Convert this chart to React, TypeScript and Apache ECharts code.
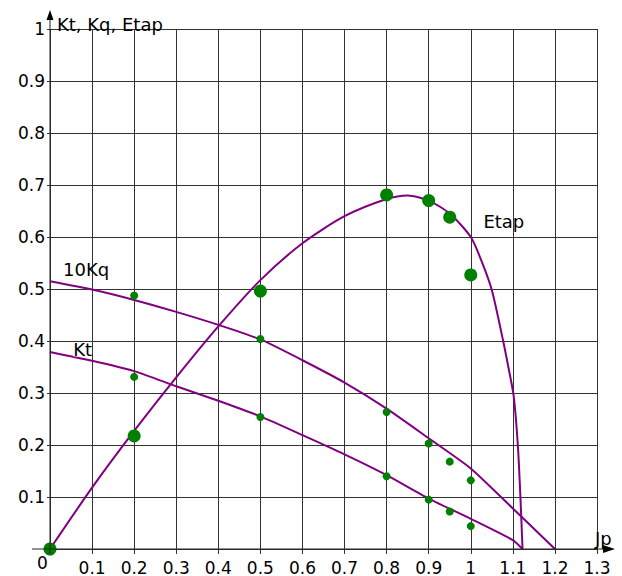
import React, { useEffect, useRef } from "react";
import * as echarts from "echarts";

// Fitted curves
const etapJ = [0, 0.1, 0.2, 0.3, 0.4, 0.5, 0.6, 0.7, 0.8, 0.85, 0.9, 0.95, 1.0, 1.025, 1.05, 1.077, 1.09, 1.102, 1.112, 1.118, 1.123];
const etapV = [0, 0.118, 0.227, 0.33, 0.428, 0.517, 0.588, 0.64, 0.673, 0.68, 0.67, 0.645, 0.6, 0.555, 0.498, 0.4, 0.347, 0.294, 0.198, 0.1, 0];

const kqJ = [0, 0.1, 0.2, 0.3, 0.4, 0.5, 0.6, 0.7, 0.8, 0.9, 1.0, 1.1, 1.2];
const kqV = [0.515, 0.499, 0.479, 0.456, 0.431, 0.403, 0.363, 0.32, 0.27, 0.213, 0.155, 0.078, 0];

const ktJ = [0, 0.1, 0.2, 0.3, 0.4, 0.5, 0.6, 0.7, 0.8, 0.9, 1.0, 1.1, 1.123];
const ktV = [0.379, 0.362, 0.342, 0.313, 0.285, 0.255, 0.219, 0.182, 0.142, 0.097, 0.058, 0.017, 0];

// Measured points
const measEtapJ = [0, 0.2, 0.5, 0.8, 0.9, 0.95, 1.0];
const measEtap = [0, 0.2175, 0.496, 0.681, 0.67, 0.638, 0.527];
const measJ = [0.2, 0.5, 0.8, 0.9, 0.95, 1.0];
const measKq10 = [0.4875, 0.404, 0.2635, 0.203, 0.168, 0.132];
const measKt = [0.331, 0.254, 0.14, 0.095, 0.072, 0.044];

const axisTitleY = "Kt, Kq, Etap";
const axisTitleX = "Jp";
const curveNames = ["Etap", "10Kq", "Kt"];

const pair = (xs: number[], ys: number[]) => xs.map((x, i) => [x, ys[i]]);

export default function App() {
  const ref = useRef<HTMLDivElement>(null);
  useEffect(() => {
    const chart = echarts.init(ref.current!, null, { renderer: "svg" });
    const font = "DejaVu Sans";
    const purple = "#800080";
    const green = "#008000";
    const gridColor = "#333";
    const fmt = (v: number) => (Math.abs(v) < 1e-9 ? "" : String(+v.toFixed(1)));
    chart.setOption({
      animation: false,
      backgroundColor: "#fff",
      grid: { left: 50, right: 25, top: 29, bottom: 26 },
      xAxis: {
        type: "value",
        min: 0,
        max: 1.3,
        interval: 0.1,
        axisLine: { show: false },
        axisTick: { show: true, length: 5, lineStyle: { color: gridColor } },
        splitLine: { show: true, lineStyle: { color: gridColor, width: 1 } },
        axisLabel: { margin: 10, color: "#000", fontFamily: font, fontSize: 17, formatter: fmt },
      },
      yAxis: {
        type: "value",
        min: 0,
        max: 1,
        interval: 0.1,
        axisLine: { show: false },
        axisTick: { show: true, length: 3, lineStyle: { color: gridColor } },
        splitLine: { show: true, lineStyle: { color: gridColor, width: 1 } },
        axisLabel: { margin: 5, color: "#000", fontFamily: font, fontSize: 17, formatter: fmt },
      },
      series: [
        { type: "line", name: "Kt", data: pair(ktJ, ktV), showSymbol: false, smooth: 0.2, lineStyle: { color: purple, width: 2 }, z: 3 },
        { type: "line", name: "10Kq", data: pair(kqJ, kqV), showSymbol: false, smooth: 0.2, lineStyle: { color: purple, width: 2 }, z: 3 },
        { type: "line", name: "Etap", data: pair(etapJ, etapV), showSymbol: false, smooth: 0.25, lineStyle: { color: purple, width: 2 }, z: 3 },
        { type: "scatter", data: pair(measEtapJ, measEtap), symbolSize: 13, itemStyle: { color: green, opacity: 1 }, z: 5 },
        { type: "scatter", data: pair(measJ, measKq10), symbolSize: 8, itemStyle: { color: green, opacity: 1 }, z: 5 },
        { type: "scatter", data: pair(measJ, measKt), symbolSize: 8, itemStyle: { color: green, opacity: 1 }, z: 5 },
      ],
    });

    const p = (x: number, y: number) => chart.convertToPixel({ gridIndex: 0 }, [x, y]) as number[];
    const o = p(0, 0);
    const xe = p(1.3, 0);
    const ye = p(0, 1);
    const txt = (text: string, x: number, y: number, size: number, align: string, extra: any = {}) => ({
      type: "text",
      x,
      y,
      z: 100,
      style: {
        text,
        fill: "#000",
        font: `${size}px "${font}"`,
        align,
        textAlign: align,
        verticalAlign: "middle",
        textVerticalAlign: "middle",
        ...extra,
      },
    });
    const etapPos = p(1.03, 0.63);
    const kqPos = p(0.031, 0.537);
    const ktPos = p(0.055, 0.384);
    chart.setOption({
      graphic: [
        { type: "line", z: 90, shape: { x1: o[0] - 18, y1: o[1], x2: xe[0] + 10, y2: o[1] }, style: { stroke: "#222", lineWidth: 1 } },
        { type: "polygon", z: 90, shape: { points: [[xe[0] + 6, o[1] - 4], [xe[0] + 18, o[1]], [xe[0] + 6, o[1] + 4]] }, style: { fill: "#000" } },
        { type: "line", z: 90, shape: { x1: o[0], y1: o[1] + 5, x2: o[0], y2: ye[1] - 12 }, style: { stroke: "#222", lineWidth: 1 } },
        { type: "polygon", z: 90, shape: { points: [[o[0] - 3.5, ye[1] - 9], [o[0], ye[1] - 19], [o[0] + 3.5, ye[1] - 9]] }, style: { fill: "#000" } },
        txt(axisTitleY, o[0] + 7, ye[1] - 5, 18, "left"),
        txt(axisTitleX, xe[0] - 2, o[1] - 11, 18, "left"),
        txt("0", o[0] - 7.5, o[1] + 13.5, 17, "center"),
        txt(curveNames[0], etapPos[0], etapPos[1], 18, "left"),
        txt(curveNames[1], kqPos[0], kqPos[1], 18, "left"),
        txt(curveNames[2], ktPos[0], ktPos[1], 18, "left", { backgroundColor: "#fff", lineHeight: 14 }),
      ],
    });
    return () => chart.dispose();
  }, []);
  return <div ref={ref} style={{ position: "fixed", left: 0, top: 0, width: 622, height: 576, background: "#fff" }} />;
}
